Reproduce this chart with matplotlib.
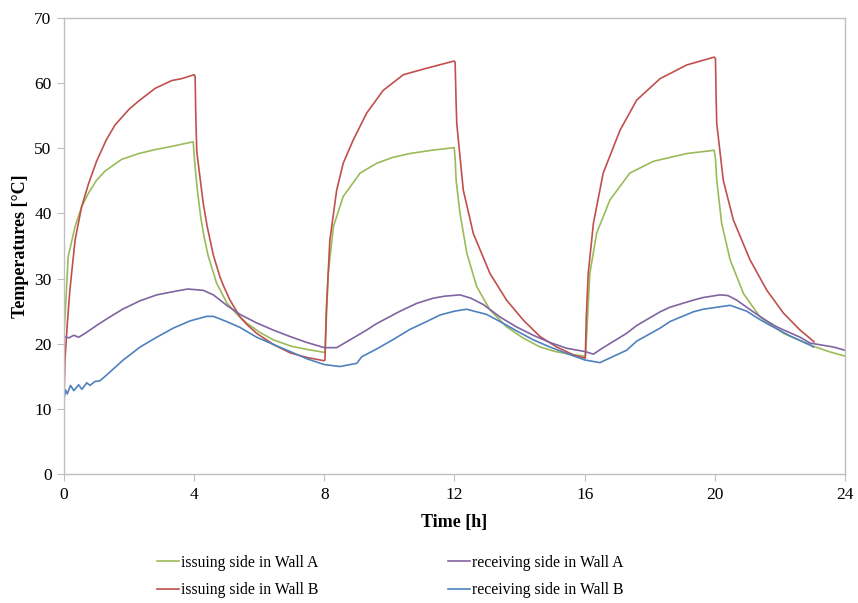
"""
Wall temperatures over three heating cycles (issuing / receiving sides)
"""
import matplotlib
matplotlib.use('Agg')
import matplotlib.pyplot as plt

# --- data (time [h], temperature [degC]) ---
t_iss_a = [0, 0.03, 0.13, 0.34, 0.54, 0.75, 1.0, 1.26, 1.77, 2.3, 2.8, 3.31, 3.97,
           4.03, 4.1, 4.2, 4.3, 4.43, 4.69, 5.0, 5.3, 5.61, 6.0, 6.43, 7.0, 7.5, 7.97,
           8.02, 8.12, 8.28, 8.58, 9.1, 9.61, 10.1, 10.63, 11.3, 11.99,
           12.02, 12.05, 12.17, 12.38, 12.68, 13.09, 13.6, 14.1, 14.63, 15.1, 15.65, 16.0,
           16.03, 16.16, 16.37, 16.78, 17.39, 18.11, 19.14, 19.98,
           20.02, 20.06, 20.21, 20.47, 20.88, 21.39, 22.11, 22.93, 23.5, 24.0]
T_iss_a = [21.6, 24.0, 33.4, 38.0, 41.0, 43.1, 45.1, 46.5, 48.3, 49.2, 49.8, 50.3, 51.0,
           47.0, 43.5, 39.5, 36.5, 33.5, 29.3, 26.3, 24.6, 23.2, 21.8, 20.6, 19.6, 19.1, 18.7,
           18.6, 30.8, 38.0, 42.6, 46.2, 47.7, 48.6, 49.2, 49.7, 50.1,
           48.5, 45.1, 40.0, 33.9, 28.8, 25.2, 22.6, 20.9, 19.5, 18.8, 18.3, 18.1,
           18.3, 30.8, 37.0, 42.1, 46.2, 48.0, 49.2, 49.7,
           48.5, 45.1, 38.5, 32.9, 27.7, 24.1, 21.6, 19.8, 18.8, 18.1]

t_iss_b = [0, 0.03, 0.1, 0.18, 0.34, 0.54, 0.75, 1.0, 1.3, 1.57, 2.0, 2.28, 2.8, 3.31, 3.62, 4.0,
           4.03, 4.05, 4.08, 4.18, 4.28, 4.4, 4.59, 4.79, 4.9, 5.1, 5.41, 5.61, 5.92, 6.43,
           6.95, 7.46, 7.98,
           8.02, 8.06, 8.17, 8.38, 8.58, 8.89, 9.3, 9.81, 10.43, 11.15, 11.99,
           12.02, 12.05, 12.07, 12.27, 12.58, 13.09, 13.6, 14.12, 14.63, 15.14, 15.65, 16.0,
           16.02, 16.05, 16.11, 16.27, 16.57, 17.09, 17.6, 18.32, 19.14, 19.98,
           20.02, 20.04, 20.06, 20.26, 20.57, 21.08, 21.6, 22.11, 22.62, 23.05]
T_iss_b = [11.5, 17.5, 23.0, 28.2, 35.9, 41.0, 44.5, 48.0, 51.3, 53.6, 56.0, 57.2, 59.2, 60.4, 60.7, 61.3,
           61.0, 55.0, 49.5, 45.5, 41.5, 38.0, 33.6, 30.3, 28.9, 26.7, 24.1, 23.0, 21.6, 19.9,
           18.6, 17.9, 17.4,
           17.5, 25.0, 35.9, 43.6, 47.7, 51.3, 55.4, 58.9, 61.3, 62.3, 63.4,
           63.2, 57.0, 53.8, 43.6, 36.9, 30.8, 26.7, 23.6, 21.1, 19.5, 18.3, 17.8,
           17.8, 24.0, 30.8, 38.5, 46.2, 52.8, 57.4, 60.7, 62.8, 64.0,
           63.8, 58.0, 53.8, 45.1, 39.0, 32.9, 28.2, 24.7, 22.1, 20.3]

t_rec_a = [0, 0.15, 0.3, 0.45, 0.65, 1.0, 1.31, 1.8, 2.34, 2.85, 3.36, 3.8, 4.28, 4.59, 5.0,
           5.41, 5.92, 6.43, 6.95, 7.46, 8.0, 8.38, 8.79, 9.3, 9.61, 10.33, 10.84, 11.35,
           11.7, 12.17, 12.5, 12.89, 13.4, 13.9, 14.42, 14.93, 15.45, 16.01, 16.27, 16.57,
           17.29, 17.6, 18.32, 18.62, 19.34, 19.65, 20.16, 20.4, 20.67, 21.18, 21.6, 21.9,
           22.62, 22.93, 23.64, 24.0]
T_rec_a = [21.1, 20.9, 21.3, 21.0, 21.6, 22.8, 23.8, 25.3, 26.6, 27.5, 28.0, 28.4, 28.2, 27.5, 25.9,
           24.5, 23.2, 22.1, 21.1, 20.2, 19.4, 19.4, 20.6, 22.1, 23.1, 25.0, 26.2, 27.0,
           27.3, 27.5, 27.0, 26.0, 24.1, 22.6, 21.3, 20.2, 19.3, 18.8, 18.4, 19.4,
           21.6, 22.8, 24.9, 25.6, 26.7, 27.1, 27.5, 27.4, 26.7, 24.9, 23.5, 22.6,
           21.0, 20.1, 19.5, 19.0]

t_rec_b = [0, 0.05, 0.1, 0.2, 0.3, 0.45, 0.55, 0.7, 0.8, 0.95, 1.1, 1.31, 1.82, 2.34, 2.85,
           3.36, 3.87, 4.38, 4.59, 5.0, 5.41, 5.92, 6.43, 6.95, 7.46, 8.0, 8.48, 9.0, 9.15,
           9.61, 10.1, 10.63, 11.1, 11.55, 12.0, 12.37, 12.99, 13.4, 13.9, 14.42, 14.93,
           15.45, 16.01, 16.47, 17.29, 17.6, 18.32, 18.62, 19.34, 19.65, 20.47, 20.98,
           21.39, 21.6, 22.31, 22.93, 23.03]
T_rec_b = [11.5, 12.9, 12.3, 13.6, 12.8, 13.7, 13.0, 14.0, 13.6, 14.2, 14.3, 15.2, 17.5, 19.5, 21.0,
           22.4, 23.5, 24.2, 24.2, 23.4, 22.5, 21.0, 19.9, 18.8, 17.7, 16.8, 16.5, 17.0, 18.0,
           19.2, 20.6, 22.2, 23.3, 24.4, 25.0, 25.3, 24.5, 23.4, 22.0, 20.6, 19.5,
           18.5, 17.5, 17.1, 19.0, 20.4, 22.4, 23.4, 24.9, 25.3, 25.9, 25.0,
           23.7, 23.1, 21.2, 19.8, 19.5]

x_ticks = [0, 4, 8, 12, 16, 20, 24]
y_ticks = [0, 10, 20, 30, 40, 50, 60, 70]

plt.rcParams['font.family'] = ['Liberation Serif', 'DejaVu Serif']

fig = plt.figure(figsize=(8.58, 6.03), dpi=100)
ax = fig.add_axes([0.0746, 0.2139, 0.9102, 0.7562])

ax.plot(t_iss_a, T_iss_a, color='#9BBB59', lw=1.2, label='issuing side in Wall A')
ax.plot(t_iss_b, T_iss_b, color='#C0504D', lw=1.2, label='issuing side in Wall B')
ax.plot(t_rec_a, T_rec_a, color='#8064A2', lw=1.2, label='receiving side in Wall A')
ax.plot(t_rec_b, T_rec_b, color='#4F81BD', lw=1.2, label='receiving side in Wall B')

ax.set_xlim(0, 24)
ax.set_ylim(0, 70)
ax.set_xticks(x_ticks)
ax.set_yticks(y_ticks)
ax.tick_params(direction='out', length=5, color='#BFBFBF', labelsize=12.5, pad=4)
for sp in ax.spines.values():
    sp.set_color('#BFBFBF')
    sp.set_linewidth(1.0)

ax.set_xlabel('Time [h]', fontsize=13, fontweight='bold', labelpad=8)
ax.set_ylabel('Temperatures [°C]', fontsize=13, fontweight='bold', labelpad=4)

fig.legend(loc='center', bbox_to_anchor=(0.455, 0.044), ncol=2, frameon=False,
           fontsize=11.3, handlelength=1.4, handletextpad=0.1, columnspacing=8.3,
           labelspacing=0.75, borderpad=0)

fig.savefig('out.png', dpi=100)
